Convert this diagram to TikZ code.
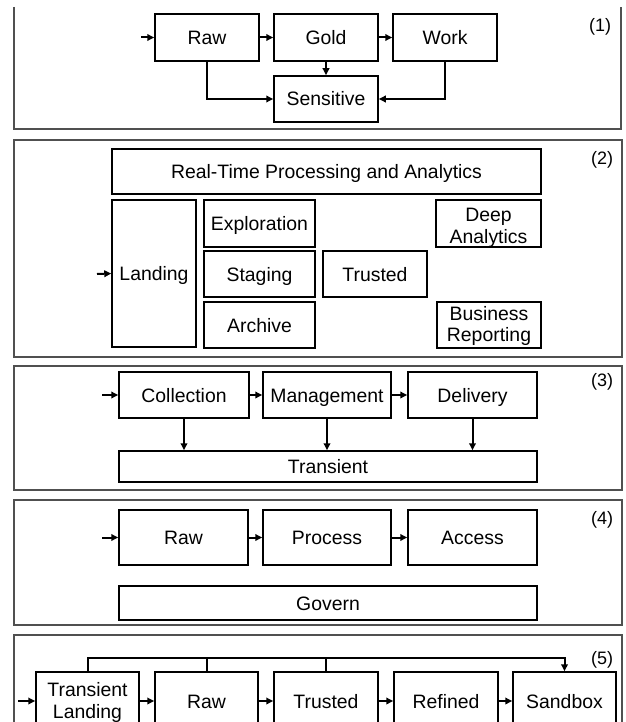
\documentclass[tikz,border=0pt]{standalone}
\usepackage{fontspec}
\setmainfont{Liberation Sans}
\usetikzlibrary{arrows.meta,calc}
\definecolor{panelgray}{RGB}{80,80,80}
\newcommand{\twolines}[2]{\begin{tabular}{@{}c@{}}#1\\#2\end{tabular}}
\begin{document}
\begin{tikzpicture}[x=1pt,y=-1pt,
  box/.style={draw, line width=1.5pt, inner sep=0pt, align=center,
    font=\fontsize{19.4}{21.7}\selectfont},
  onebox/.style={box, text height=16pt, text depth=2pt},
  conn/.style={line width=2pt, -{Triangle[length=7pt,width=6.5pt]}},
  wire/.style={line width=2pt},
  panel/.style={draw=panelgray, line width=1.2pt},
  tag/.style={font=\fontsize{18}{20}\selectfont, inner sep=0pt}]
\clip (0,0) rectangle (625,722);

% ---------- Panel 1 ----------
\draw[panel] (14,7) -- (14,129) -- (621,129) -- (621,7);
\node[onebox, minimum width=104, minimum height=47] (raw1) at (207,37.5) {Raw};
\node[onebox, minimum width=104, minimum height=47] (gold1) at (326,37.5) {Gold};
\node[onebox, minimum width=104, minimum height=47] (work1) at (445,37.5) {Work};
\node[onebox, minimum width=104, minimum height=46] (sens1) at (326,99) {Sensitive};
\node[tag] (t1) at (600,27) {(1)};
\coordinate (in1) at (141,37.5);
\draw[conn] (in1) -- (raw1.west);
\draw[conn] (raw1) -- (gold1);
\draw[conn] (gold1) -- (work1);
\draw[conn] (gold1) -- (sens1);
\draw[conn] (raw1.south) |- (sens1.west);
\draw[conn] (work1.south) |- (sens1.east);

% ---------- Panel 2 ----------
\draw[panel] (14,140) rectangle (622,357);
\node[onebox, minimum width=429, minimum height=45] (rt) at (326.5,171.5) {Real-Time Processing and Analytics};
\node[onebox, minimum width=84, minimum height=147] (land) at (154,273.5) {Landing};
\node[onebox, minimum width=111, minimum height=47] (expl) at (259.5,223.5) {Exploration};
\node[onebox, minimum width=111, minimum height=46] (stag) at (259.5,274) {Staging};
\node[onebox, minimum width=111, minimum height=46] (arch) at (259.5,325) {Archive};
\node[onebox, minimum width=104, minimum height=46] (trus2) at (375,274) {Trusted};
\node[box, text height=20pt, text depth=0pt, minimum width=105, minimum height=47] (deep) at (488.5,223.5) {\twolines{Deep}{Analytics}};
\node[box, text height=13.4pt, text depth=0pt, minimum width=104, minimum height=46] (bus) at (489,325) {\twolines{Business}{Reporting}};
\node[tag] (t2) at (602,160) {(2)};
\coordinate (in2) at (97,274);
\draw[conn] (in2) -- (land.west);

% ---------- Panel 3 ----------
\draw[panel] (14,366) rectangle (622,490);
\node[onebox, minimum width=130, minimum height=46] (coll) at (184,395) {Collection};
\node[onebox, minimum width=128, minimum height=46] (mgmt) at (327,395) {Management};
\node[onebox, minimum width=129, minimum height=46] (deliv) at (472.5,395) {Delivery};
\node[onebox, minimum width=418, minimum height=31] (trans) at (328,466.5) {Transient};
\node[tag] (t3) at (602,382) {(3)};
\coordinate (in3) at (102,395);
\draw[conn] (in3) -- (coll.west);
\draw[conn] (coll) -- (mgmt);
\draw[conn] (mgmt) -- (deliv);
\draw[conn] (coll.south) -- (coll.south |- trans.north);
\draw[conn] (mgmt.south) -- (mgmt.south |- trans.north);
\draw[conn] (deliv.south) -- (deliv.south |- trans.north);

% ---------- Panel 4 ----------
\draw[panel] (14,500) rectangle (622,625);
\node[onebox, minimum width=129, minimum height=55] (raw4) at (183.5,537.5) {Raw};
\node[onebox, minimum width=128, minimum height=55] (proc) at (327,537.5) {Process};
\node[onebox, minimum width=129, minimum height=55] (acc) at (472.5,537.5) {Access};
\node[onebox, minimum width=418, minimum height=34] (gov) at (328,603) {Govern};
\node[tag] (t4) at (602,520) {(4)};
\coordinate (in4) at (102,537.5);
\draw[conn] (in4) -- (raw4.west);
\draw[conn] (raw4) -- (proc);
\draw[conn] (proc) -- (acc);

% ---------- Panel 5 ----------
\draw[panel] (14,740) -- (14,635) -- (622,635) -- (622,740);
\node[box, text height=15pt, text depth=0pt, minimum width=103, minimum height=58] (tl) at (87.5,701) {\twolines{Transient}{Landing}};
\node[onebox, minimum width=103, minimum height=58] (raw5) at (206.5,701) {Raw};
\node[onebox, minimum width=104, minimum height=58] (trus5) at (326,701) {Trusted};
\node[onebox, minimum width=104, minimum height=58] (ref) at (446,701) {Refined};
\node[onebox, minimum width=103, minimum height=58] (sand) at (564.5,701) {Sandbox};
\node[tag] (t5) at (602,660) {(5)};
\coordinate (in5) at (18,701);
\coordinate (top5) at (564.5,658);
\draw[conn] (in5) -- (tl.west);
\draw[conn] (tl) -- (raw5);
\draw[conn] (raw5) -- (trus5);
\draw[conn] (trus5) -- (ref);
\draw[conn] (ref) -- (sand);
\draw[conn] (tl.north) |- (top5) -- (sand.north);
\draw[wire] (raw5.north) -- (raw5.north |- top5);
\draw[wire] (trus5.north) -- (trus5.north |- top5);
\end{tikzpicture}
\end{document}
